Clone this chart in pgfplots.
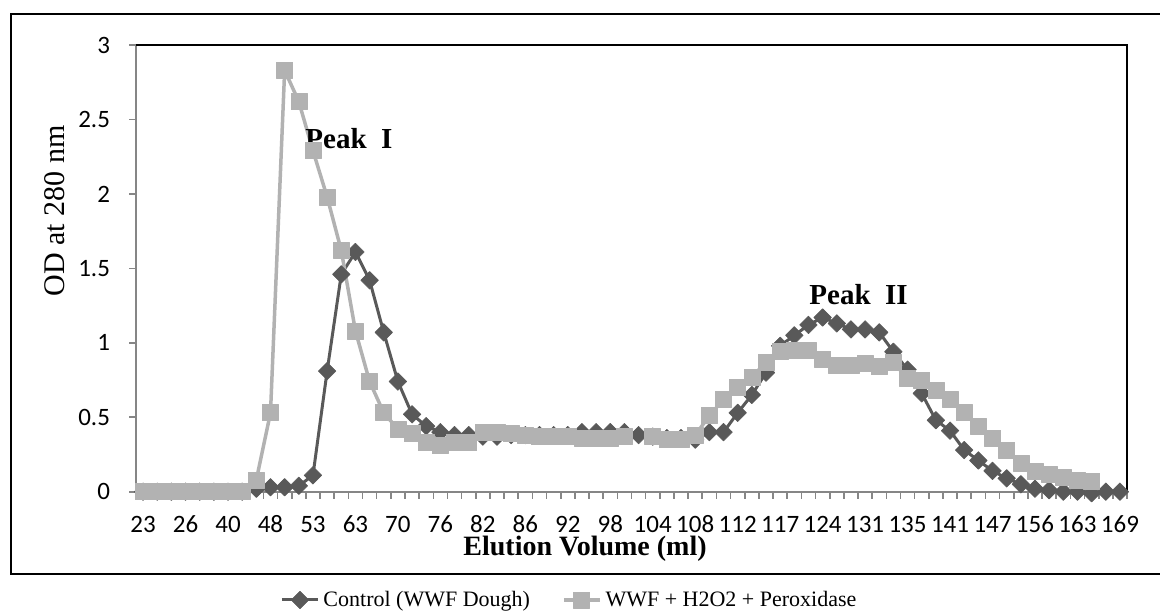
\documentclass[border=0pt]{standalone}
\usepackage{fontspec}
\setmainfont{Liberation Serif}
\newfontfamily\carlito{Carlito}
\usepackage{pgfplots}
\pgfplotsset{compat=1.18}
\usepackage{pgfplotstable}

\definecolor{ctrl}{RGB}{89,89,89}
\definecolor{trt}{RGB}{178,178,178}
\definecolor{axgray}{RGB}{134,134,134}

% x = category index (1..70), labels every third category
\pgfplotstableread{
x ctrl trt
1 0 0
2 0 0
3 0 0
4 0 0
5 0 0
6 0 0
7 0 0
8 0 0
9 0.02 0.08
10 0.03 0.53
11 0.03 2.83
12 0.04 2.62
13 0.11 2.29
14 0.81 1.98
15 1.46 1.62
16 1.61 1.08
17 1.42 0.74
18 1.07 0.53
19 0.74 0.42
20 0.52 0.39
21 0.44 0.33
22 0.40 0.31
23 0.38 0.33
24 0.38 0.33
25 0.37 0.40
26 0.37 0.40
27 0.38 0.39
28 0.38 0.38
29 0.38 0.37
30 0.38 0.37
31 0.38 0.37
32 0.40 0.36
33 0.40 0.36
34 0.40 0.36
35 0.40 0.37
36 0.38 nan
37 0.37 0.37
38 0.36 0.35
39 0.36 0.35
40 0.35 0.38
41 0.40 0.51
42 0.40 0.62
43 0.53 0.70
44 0.65 0.77
45 0.80 0.87
46 0.98 0.94
47 1.05 0.95
48 1.12 0.95
49 1.17 0.89
50 1.13 0.85
51 1.09 0.85
52 1.09 0.86
53 1.07 0.84
54 0.94 0.87
55 0.82 0.76
56 0.66 0.75
57 0.48 0.68
58 0.41 0.62
59 0.28 0.53
60 0.21 0.44
61 0.14 0.36
62 0.09 0.28
63 0.05 0.19
64 0.02 0.14
65 0.01 0.12
66 0 0.10
67 0 0.08
68 -0.01 0.07
69 0 nan
70 0 nan
}\elution

\begin{document}
\begin{tikzpicture}
\path[use as bounding box] (0,0) rectangle (580pt,-306pt);
\draw[line width=1pt] (580pt,-7pt) -- (5.5pt,-7pt) -- (5.5pt,-287pt) -- (580pt,-287pt);
\begin{axis}[
  at={(68pt,-245.85pt)}, anchor=south west,
  scale only axis, width=495.5pt, height=223.35pt,
  xmin=0.5, xmax=70.5, ymin=0, ymax=3,
  clip=false,
  axis x line*=bottom, axis y line*=left,
  axis line style={axgray, line width=1pt},
  tick align=outside, major tick length=3.5pt,
  tick style={axgray, line width=0.8pt},
  xtick={0.5,1.5,...,70.5}, xticklabels={},
  extra x ticks={1,4,...,70},
  extra x tick labels={23,26,40,48,53,63,70,76,82,86,92,98,104,108,112,117,124,131,135,141,147,156,163,169},
  extra x tick style={major tick length=0pt},
  ytick={0,0.5,...,3},
  tick label style={font=\carlito\fontsize{12.5}{14}\selectfont, black},
  /pgf/number format/assume math mode=true,
  xticklabel style={text height=7.9pt, text depth=0pt, yshift=-9pt},
  yticklabel style={xshift=-6pt},
  legend columns=2,
  legend style={at={(0.4384,-0.2424)}, anchor=center, draw=none, fill=none,
    font=\fontsize{11}{13}\selectfont,
    /tikz/every even column/.append style={column sep=14pt}},
  legend image code/.code={\draw[mark repeat=2,mark phase=2] plot coordinates {(0pt,0pt) (9pt,0pt) (18pt,0pt)};},
]
\addplot[ctrl, line width=1.5pt, line join=round, unbounded coords=jump,
  mark=square*, mark size=3.1pt, mark options={rotate=45, line width=0.3pt}]
  table[x=x, y=ctrl]{\elution};
\addlegendentry{Control (WWF Dough)}
\addplot[trt, line width=1.75pt, line join=round, unbounded coords=jump,
  mark=square*, mark size=4pt, mark options={line width=0.3pt}]
  table[x=x, y=trt]{\elution};
\addlegendentry{WWF + H2O2 + Peroxidase}
\draw[black, line width=0.8pt] (rel axis cs:0,1) -- (rel axis cs:1,1) -- (rel axis cs:1,0);
\node[anchor=base west, inner sep=0pt, font=\bfseries\fontsize{14.5}{16}\selectfont] at (axis cs:12.44,2.308) {Peak\ \ I};
\node[anchor=base west, inner sep=0pt, font=\bfseries\fontsize{14.5}{16}\selectfont] at (axis cs:48.04,1.26) {Peak\ \ II};
\end{axis}
\node[rotate=90, font=\fontsize{15}{17}\selectfont] at (27.5pt,-105.5pt) {OD at 280 nm};
\node[anchor=base, font=\bfseries\fontsize{14}{16}\selectfont] at (292.5pt,-277.5pt) {Elution Volume (ml)};
\end{tikzpicture}
\end{document}
